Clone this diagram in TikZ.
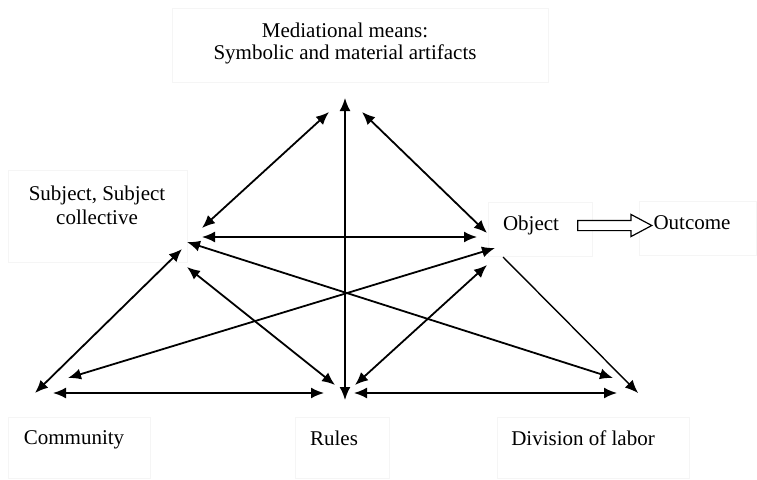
\documentclass[tikz,border=0pt]{standalone}
\usepackage{fontspec}
\setmainfont{Liberation Serif}
\usetikzlibrary{arrows.meta,shapes.arrows}
\tikzset{framebox/.style={draw=black!4,fill=white,line width=0.7pt,anchor=north west,inner sep=0pt},
         both way/.style={{Latex[length=13pt,width=11pt]}-{Latex[length=13pt,width=11pt]},line width=1.8pt},
         one way/.style={-{Latex[length=13pt,width=11pt]},line width=1.4pt}}

\begin{document}
\begin{tikzpicture}[x=1pt,y=-1pt,font=\fontsize{21}{24}\selectfont]
\useasboundingbox (0,0) rectangle (757,479);

% faint frames
\node[framebox,minimum width=376,minimum height=74] (medbox) at (172,8) {};
\node[framebox,minimum width=179,minimum height=92] (subjbox) at (8,170) {};
\node[framebox,minimum width=104,minimum height=54] (objbox) at (488,202) {};
\node[framebox,minimum width=117,minimum height=54] (outcbox) at (639,201) {};
\node[framebox,minimum width=142,minimum height=61] (commbox) at (8,417) {};
\node[framebox,minimum width=94,minimum height=61] (rulesbox) at (295,417) {};
\node[framebox,minimum width=192,minimum height=61] (divbox) at (497,417) {};

% texts
\node[align=center,font=\fontsize{21}{22}\selectfont] (med) at (345,43) {Mediational means:\\Symbolic and material artifacts};
\node[align=center] (subj) at (97,205) {Subject, Subject\\collective};
\node (obj) at (531,225) {Object};
\node (outc) at (692,223) {Outcome};
\node (comm) at (74,440) {Community};
\node (rules) at (334,438) {Rules};
\node (div) at (583,438) {Division of labor};

\node[single arrow,draw,fill=white,line width=1.2pt,inner sep=4.5pt,minimum height=74,
      single arrow head extend=6pt,single arrow tip angle=56] (flow) at (610,225.5) {};

% arrow ends
\coordinate (m-s) at (329,112);  \coordinate (s-m) at (202,228);
\coordinate (m-o) at (362,112);  \coordinate (o-m) at (487,233);
\coordinate (m-r) at (345,98);   \coordinate (r-m) at (345,400);
\coordinate (s-o) at (202,237);  \coordinate (o-s) at (477,237);
\coordinate (s-c) at (182,249);  \coordinate (c-s) at (35,393);
\coordinate (s-r) at (187,267);  \coordinate (r-s) at (335,385);
\coordinate (s-d) at (187,242);  \coordinate (d-s) at (613,378);
\coordinate (o-c) at (495,248);  \coordinate (c-o) at (68,378);
\coordinate (o-r) at (487,265);  \coordinate (r-o) at (355,385);
\coordinate (o-d) at (503,257);  \coordinate (d-o) at (638,393);
\coordinate (c-r) at (53,393);   \coordinate (r-c) at (324,393);
\coordinate (r-d) at (354,393);  \coordinate (d-r) at (617,393);

\foreach \a/\b in {m/s,m/o,m/r,s/o,s/c,s/r,s/d,o/c,o/r,c/r,r/d}
  \draw[both way] (\a-\b) -- (\b-\a);
\draw[one way] (o-d) -- (d-o);

\end{tikzpicture}
\end{document}
